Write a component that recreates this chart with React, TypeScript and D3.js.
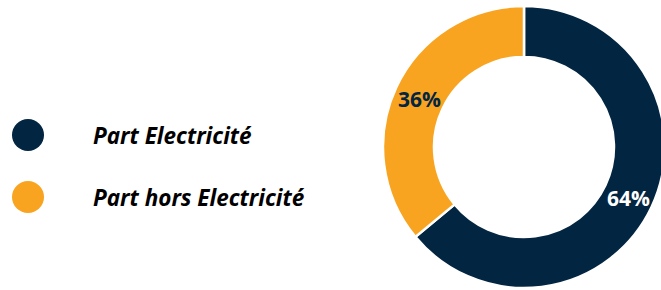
import React from 'react';
import * as d3 from 'd3';

const categories = ['Part Electricité', 'Part hors Electricité'];
const values = [64, 36];
const labels = ['64%', '36%'];
const colors = ['#022541', '#F9A420'];
const labelColors = ['#ffffff', '#022541'];

const App = () => {
  const width = 661;
  const height = 290;
  const cx = 524;
  const cy = 147;
  const outer = 141;
  const inner = 90;

  const pie = d3.pie<number>().sort(null).value(d => d);
  const arcs = pie(values);
  const arc = d3.arc<d3.PieArcDatum<number>>().innerRadius(inner).outerRadius(outer);
  const labelArc = d3.arc<d3.PieArcDatum<number>>().innerRadius(inner + 25).outerRadius(outer - 25);

  const legendY = d3.scalePoint<string>().domain(categories).range([135, 197]);

  return (
    <svg width={width} height={height} style={{ position: 'absolute', left: 0, top: 0 }}>
      <rect width={width} height={height} fill="#ffffff" />
      <g transform={`translate(${cx},${cy})`}>
        {arcs.map((a, i) => (
          <path key={i} d={arc(a) || ''} fill={colors[i]} stroke="#ffffff" strokeWidth={2.5} />
        ))}
        {arcs.map((a, i) => {
          const [x, y] = labelArc.centroid(a);
          return (
            <text
              key={i}
              x={x}
              y={y + 2}
              dy="0.35em"
              textAnchor="middle"
              fontFamily="'Open Sans', sans-serif"
              fontWeight="bold"
              fontSize={21}
              fill={labelColors[i]}
            >
              {labels[i]}
            </text>
          );
        })}
      </g>
      {categories.map((c, i) => (
        <g key={c} transform={`translate(0,${legendY(c)})`}>
          <circle cx={28} cy={0} r={16} fill={colors[i]} />
          <text
            x={93}
            y={1}
            dy="0.35em"
            fontFamily="'Open Sans', sans-serif"
            fontWeight="bold"
            fontStyle="italic"
            fontSize={22.5}
            fill="#000000"
          >
            {c}
          </text>
        </g>
      ))}
    </svg>
  );
};

export default App;
